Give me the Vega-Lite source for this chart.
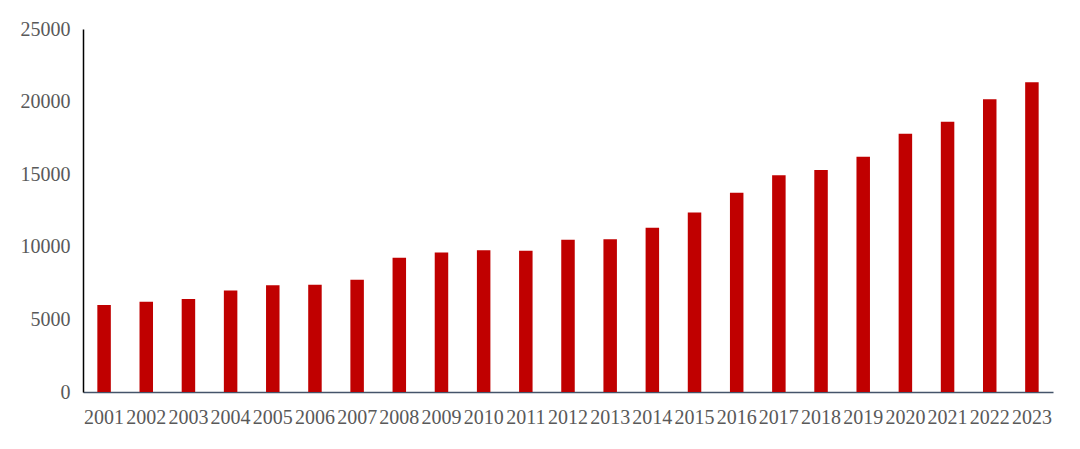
{
  "$schema": "https://vega.github.io/schema/vega-lite/v6.json",
  "autosize": "none",
  "padding": {"left": 83, "top": 29, "right": 27, "bottom": 57},
  "width": 970,
  "height": 363,
  "background": "white",
  "config": {
    "view": {"stroke": null},
    "font": "Liberation Serif"
  },
  "data": {
    "values": [
      {"year": "2001", "value": 6000},
      {"year": "2002", "value": 6210},
      {"year": "2003", "value": 6400},
      {"year": "2004", "value": 6990},
      {"year": "2005", "value": 7360},
      {"year": "2006", "value": 7380},
      {"year": "2007", "value": 7730},
      {"year": "2008", "value": 9240},
      {"year": "2009", "value": 9600},
      {"year": "2010", "value": 9770},
      {"year": "2011", "value": 9720},
      {"year": "2012", "value": 10480},
      {"year": "2013", "value": 10520},
      {"year": "2014", "value": 11320},
      {"year": "2015", "value": 12360},
      {"year": "2016", "value": 13730},
      {"year": "2017", "value": 14930},
      {"year": "2018", "value": 15290},
      {"year": "2019", "value": 16210},
      {"year": "2020", "value": 17790},
      {"year": "2021", "value": 18620},
      {"year": "2022", "value": 20160},
      {"year": "2023", "value": 21330}
    ]
  },
  "mark": {"type": "bar", "color": "#C00000"},
  "encoding": {
    "x": {
      "field": "year",
      "type": "ordinal",
      "title": null,
      "scale": {"paddingInner": 0.68, "paddingOuter": 0.34},
      "axis": {
        "labelAngle": 0,
        "ticks": false,
        "domainColor": "#44546A",
        "domainWidth": 1.5,
        "labelFont": "Liberation Serif",
        "labelFontSize": 20,
        "labelColor": "#595959",
        "labelPadding": 15,
        "labelOverlap": false
      }
    },
    "y": {
      "field": "value",
      "type": "quantitative",
      "title": null,
      "scale": {"domain": [0, 25000]},
      "axis": {
        "values": [0, 5000, 10000, 15000, 20000, 25000],
        "format": "d",
        "grid": false,
        "ticks": false,
        "domainColor": "#000000",
        "domainWidth": 1.5,
        "labelFont": "Liberation Serif",
        "labelFontSize": 20,
        "labelColor": "#595959",
        "labelPadding": 13
      }
    }
  }
}
